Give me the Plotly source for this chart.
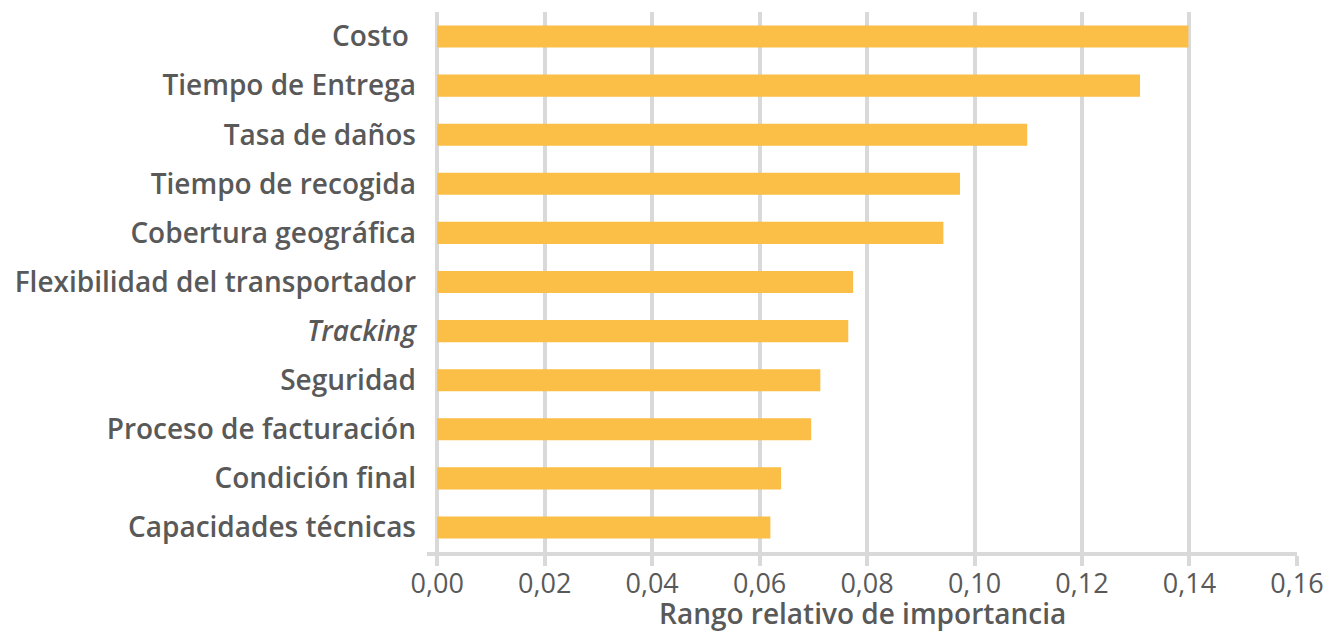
import plotly.graph_objects as go

# Factores ordenados de mayor a menor importancia
factores = [
    "Costo\u00a0",
    "Tiempo de Entrega",
    "Tasa de daños",
    "Tiempo de recogida",
    "Cobertura geográfica",
    "Flexibilidad del transportador",
    "<i>Tracking</i>",
    "Seguridad",
    "Proceso de facturación",
    "Condición final",
    "Capacidades técnicas",
]
importancia = [0.1398, 0.1308, 0.1098, 0.0973, 0.0942, 0.0774, 0.0765, 0.0713, 0.0696, 0.0640, 0.0620]

x_ticks = [0.00, 0.02, 0.04, 0.06, 0.08, 0.10, 0.12, 0.14, 0.16]

GRIS = "#595959"
LINEA = "#d9d9d9"
FUENTE = "'Open Sans', 'Noto Sans', sans-serif"

fig = go.Figure()
fig.add_trace(go.Bar(
    x=importancia,
    y=factores,
    orientation="h",
    width=0.45,
    marker=dict(color="#fbbe46", line=dict(width=0)),
    hoverinfo="x+y",
))

fig.update_layout(
    width=1324, height=633,
    margin=dict(l=427, r=27, t=12, b=81),
    plot_bgcolor="white",
    paper_bgcolor="white",
    separators=",.",
    showlegend=False,
    font=dict(family=FUENTE, color=GRIS),
)

fig.update_xaxes(
    automargin=False,
    range=[-0.0019, 0.16001],
    tickvals=x_ticks,
    tickformat=".2f",
    showgrid=True, gridcolor=LINEA, gridwidth=4,
    zeroline=False,
    showline=True, linecolor=LINEA, linewidth=4,
    ticks="outside", ticklen=10, tickwidth=4, tickcolor=LINEA,
    ticklabelstandoff=-5,
    tickfont=dict(size=27, color=GRIS, family=FUENTE),
)

fig.update_yaxes(
    automargin=False,
    range=[10.5, -0.5],
    showgrid=False, zeroline=False, showline=False,
    ticks="",
    ticklabelstandoff=10,
    tickfont=dict(size=28, color=GRIS, family=FUENTE, weight=600),
)

# título del eje X como anotación para poder colocarlo un poco más abajo
fig.add_annotation(
    text="Rango relativo de importancia",
    xref="paper", yref="paper", x=0.5, y=0,
    xanchor="center", yanchor="top", yshift=-40,
    showarrow=False,
    font=dict(size=28, color=GRIS, family=FUENTE, weight=600),
)

# quitar el margen por defecto del body para que la figura ocupe toda la ventana
fig.write_html("out.html",
               config={"displayModeBar": False},
               post_script="document.body.style.margin='0';document.body.style.overflow='hidden';")
